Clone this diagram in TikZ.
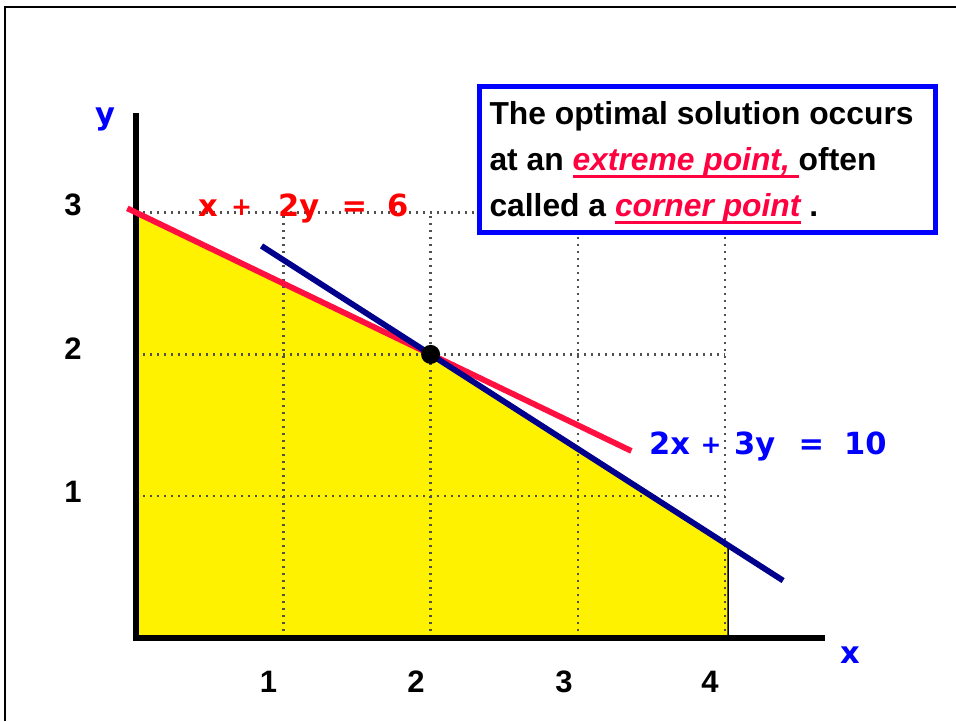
\documentclass[tikz,border=0pt]{standalone}
\usepackage{fontspec}
\setmainfont{Liberation Sans}
\newfontfamily\eqfont{DejaVu Sans}

\definecolor{ptred}{RGB}{255,0,64}
\definecolor{lnred}{RGB}{255,16,64}
\definecolor{navy}{RGB}{0,0,140}
\definecolor{dotgray}{RGB}{80,80,80}

\newcommand\redul[1]{{\color{ptred}\itshape\setbox0\hbox{#1}\rlap{\rule[-7.3pt]{\wd0}{2.5pt}}\box0}}
\newcommand\smallplus{\raisebox{1.5pt}{\fontsize{25}{25}\selectfont\bfseries +}}

\begin{document}
\begin{tikzpicture}[x=1pt,y=1pt,
  gridline/.style={dotgray,line width=2.4pt,dash pattern=on 2.4pt off 4.6pt},
  axisline/.style={line width=5.7pt},
  ticklabel/.style={font=\fontsize{31}{31}\selectfont\bfseries,inner sep=0pt,anchor=base},
  eq/.style={font=\eqfont\fontsize{30.5}{30.5}\selectfont\bfseries,inner sep=0pt,anchor=base west},
  txt/.style={font=\fontsize{31.8}{31.8}\selectfont\bfseries,inner sep=0pt,anchor=base west}]
\useasboundingbox (0,0) rectangle (956,721);
\draw[line width=2pt] (5,0) -- (5,714) -- (960,714);

\begin{scope}[shift={(136,83)},x=147.3pt,y=141.8pt]
\filldraw[fill=yellow,line width=1.5pt] (0,0) -- (0,3) -- (2,2) -- (4.02,0.653) -- (4.02,0) -- cycle;
\foreach \i in {1,...,4} \draw[gridline] (\i,0) -- (\i,3);
\foreach \j in {1,2,3} \draw[gridline] (0,\j) -- (4,\j);
\draw[axisline] (-0.02,0) -- (4.68,0);
\draw[axisline] (0,-0.02) -- (0,3.70);
\coordinate (r0) at (-0.059,3.03);
\coordinate (r1) at (3.363,1.319);
\coordinate (b0) at (0.852,2.765);
\coordinate (b1) at (4.393,0.405);
\draw[lnred,line width=5.8pt] (r0) -- (r1);
\draw[navy,line width=5.8pt] (b0) -- (b1);
\node[circle,fill,inner sep=0pt,minimum size=19pt] (opt) at (2,2) {};
\end{scope}

\node[ticklabel] (y3) at (73,505) {3};
\node[ticklabel] (y2) at (73,361.7) {2};
\node[ticklabel] (y1) at (73,218.3) {1};
\node[ticklabel] (x1) at (268.5,29) {1};
\node[ticklabel] (x2) at (416,29) {2};
\node[ticklabel] (x3) at (564,29) {3};
\node[ticklabel] (x4) at (710,29) {4};
\node[eq,blue] (ylab) at (95,596) {y};
\node[eq,blue] (xlab) at (840,58) {x};

\node[eq,red] (eqA) at (198,504.3) {\rlap{x}\hspace{33pt}\rlap{\smallplus}\hspace{47pt}\rlap{2y}\hspace{63.4pt}\rlap{=}\hspace{45.6pt}6};
\node[eq,blue] (eqB) at (649,266) {\rlap{2x}\hspace{51.5pt}\rlap{\smallplus}\hspace{33.5pt}\rlap{3y}\hspace{64.3pt}\rlap{=}\hspace{45.7pt}10};

\node[draw=blue,fill=white,line width=5pt,minimum width=456pt,minimum height=145.5pt,inner sep=0pt] (note) at (707,561.25) {};
\node[txt] (l1) at (489.3,596) {The optimal solution occurs};
\node[txt] (l2) at (489.3,550.3) {at an \redul{extreme point, }often};
\node[txt] (l3) at (489.3,504.3) {called a \redul{corner point} .};
\end{tikzpicture}
\end{document}
